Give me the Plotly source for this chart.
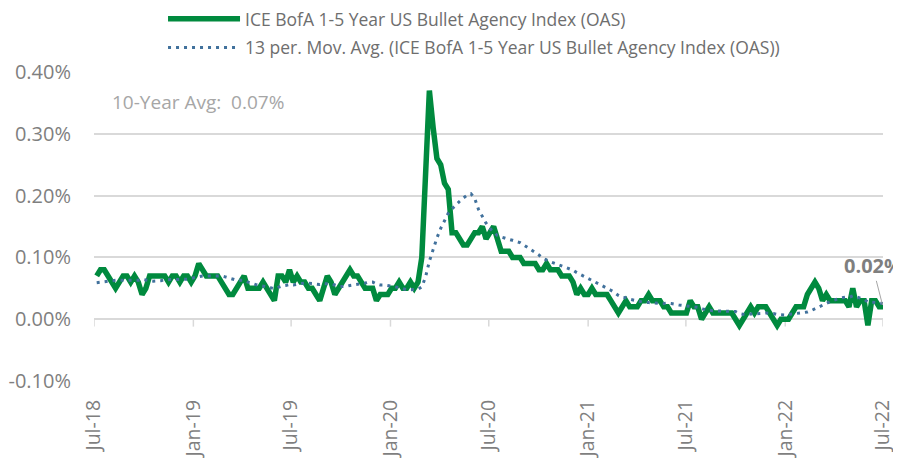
import pandas as pd
import plotly.graph_objects as go

# ---------------- data (weekly OAS, in %) ----------------
start_date = "2018-07-06"
oas = [
    # Jul-18 .. Jan-19
    0.07, 0.08, 0.08, 0.07, 0.06, 0.05, 0.06, 0.07, 0.07, 0.06,
    0.07, 0.06, 0.04, 0.05, 0.07, 0.07, 0.07, 0.07, 0.07, 0.06,
    0.07, 0.07, 0.06, 0.07, 0.07, 0.06, 0.07,
    # Jan-19 ..
    0.09, 0.08, 0.07, 0.07, 0.07, 0.07, 0.06, 0.05, 0.04, 0.04,
    0.05, 0.06, 0.07, 0.05, 0.05,
    0.05, 0.05, 0.06, 0.05, 0.04, 0.03, 0.07, 0.07, 0.06, 0.08,
    0.06, 0.07, 0.06, 0.06, 0.05, 0.05, 0.04, 0.03, 0.05, 0.07,
    0.06, 0.04, 0.05, 0.06, 0.07, 0.08, 0.07, 0.07, 0.06, 0.05,
    0.05, 0.05, 0.03, 0.04, 0.04, 0.04, 0.05, 0.05, 0.06, 0.05,
    0.05, 0.06, 0.05, 0.06,
    # Mar-20 spike
    0.10, 0.24, 0.37, 0.31, 0.26, 0.25, 0.22, 0.21,
    0.14, 0.14, 0.13, 0.12, 0.12, 0.13, 0.14, 0.14, 0.15, 0.13,
    0.14, 0.15, 0.13, 0.11, 0.11, 0.11, 0.10, 0.10, 0.10, 0.09,
    0.09, 0.09, 0.09, 0.08, 0.08, 0.09, 0.08, 0.08, 0.08,
    # Dec-20 .. Sep-21
    0.07, 0.07, 0.07, 0.06, 0.04, 0.05, 0.04, 0.04, 0.05, 0.04,
    0.04, 0.04, 0.04, 0.03, 0.02, 0.01, 0.02, 0.03, 0.02, 0.02,
    0.02, 0.03, 0.03, 0.04, 0.03, 0.03, 0.03, 0.02, 0.02, 0.01,
    0.01, 0.01, 0.01, 0.01, 0.03, 0.02, 0.02, 0.00, 0.01, 0.02,
    0.01, 0.01, 0.01, 0.01,
    # Sep-21 .. Jul-22
    0.01, 0.01, 0.00, -0.01, 0.00, 0.01, 0.02, 0.01, 0.02, 0.02,
    0.02, 0.01, 0.00, -0.01, 0.00, 0.00, 0.00, 0.01, 0.02, 0.02,
    0.02, 0.04, 0.05, 0.06, 0.05, 0.03, 0.04, 0.03, 0.03, 0.03,
    0.03, 0.03, 0.02, 0.05, 0.02, 0.03, 0.03, -0.01, 0.03, 0.03,
    0.02, 0.02,
]
# moving-average values at the start of the window (earlier history not shown)
ma_lead = [0.059, 0.060, 0.061, 0.062, 0.062, 0.063, 0.063, 0.063, 0.063, 0.063, 0.063, 0.063]

tick_dates = ["2018-07-01", "2019-01-01", "2019-07-01", "2020-01-01", "2020-07-01",
              "2021-01-01", "2021-07-01", "2022-01-01", "2022-07-01"]
tick_labels = ["Jul-18", "Jan-19", "Jul-19", "Jan-20", "Jul-20",
               "Jan-21", "Jul-21", "Jan-22", "Jul-22"]
y_ticks = [-0.10, 0.00, 0.10, 0.20, 0.30, 0.40]
y_labels = ["-0.10%", "0.00%", "0.10%", "0.20%", "0.30%", "0.40%"]

series_name = "ICE BofA 1-5 Year US Bullet Agency Index (OAS)"
ma_name = "13 per. Mov. Avg. (ICE BofA 1-5 Year US Bullet Agency Index (OAS))"
avg_text = "10-Year Avg:\u00a0 0.07%"
last_label = "0.02%"

# ---------------- build ----------------
dates = pd.date_range(start_date, periods=len(oas), freq="7D")
ma = pd.Series(oas).rolling(13).mean().tolist()
ma[:len(ma_lead)] = ma_lead

GREEN = "#008A3E"
BLUE = "#41719C"
FONT = "Open Sans"

fig = go.Figure()
fig.add_trace(go.Scatter(
    x=dates, y=oas, mode="lines", name=series_name,
    line=dict(color=GREEN, width=5.5), legendgroup="a",
))
fig.add_trace(go.Scatter(
    x=dates, y=ma, mode="lines", name=ma_name,
    line=dict(color=BLUE, width=3, dash="3px,5px"), legendgroup="b",
))

shapes = []
for d in tick_dates:
    shapes.append(dict(type="line", xref="x", yref="y", x0=d, x1=d, y0=0, y1=-0.012,
                       line=dict(color="#D9D9D9", width=1.5), layer="below"))

fig.update_layout(
    width=893, height=450,
    margin=dict(l=86, r=18, t=64, b=77, autoexpand=False),
    paper_bgcolor="white", plot_bgcolor="white",
    font=dict(family=FONT, color="#7F7F7F"),
    showlegend=True,
    legend=dict(
        x=0.1736, y=1.23, xref="container", yref="paper",
        xanchor="left", yanchor="top",
        orientation="v", traceorder="grouped", tracegroupgap=3,
        font=dict(family=FONT, size=17.5, color="#6E6E6E"),
        bgcolor="rgba(0,0,0,0)", itemwidth=72,
    ),
    xaxis=dict(
        type="date", range=[tick_dates[0], tick_dates[-1]], automargin=False,
        tickmode="array", tickvals=tick_dates, ticktext=tick_labels,
        tickangle=-90, showgrid=False, showline=False, zeroline=False,
        ticks="", ticklabelstandoff=14,
        tickfont=dict(family=FONT, size=19.5, color="#7F7F7F"),
    ),
    yaxis=dict(
        range=[y_ticks[0], y_ticks[-1]], automargin=False,
        tickmode="array", tickvals=y_ticks, ticktext=y_labels,
        showgrid=True, gridcolor="#D9D9D9", gridwidth=1.5,
        zeroline=True, zerolinecolor="#D9D9D9", zerolinewidth=1.5,
        showline=False, ticks="", ticklabelstandoff=22,
        tickfont=dict(family=FONT, size=20, color="#7F7F7F"),
    ),
    shapes=shapes,
    annotations=[
        dict(xref="paper", yref="paper", x=0.02, y=0.903, xanchor="left", yanchor="middle",
             text=avg_text, showarrow=False,
             font=dict(family=FONT, size=19, color="#A6A6A6")),
        dict(xref="x", yref="y", x=dates[-1], y=oas[-1], text="<b>" + last_label + "</b>",
             showarrow=True, arrowhead=0, arrowwidth=1, arrowcolor="#A6A6A6",
             ax=-10.5, ay=-41, standoff=2,
             font=dict(family=FONT, size=20, color="#7F7F7F")),
    ],
)

fig.write_html("out.html")
